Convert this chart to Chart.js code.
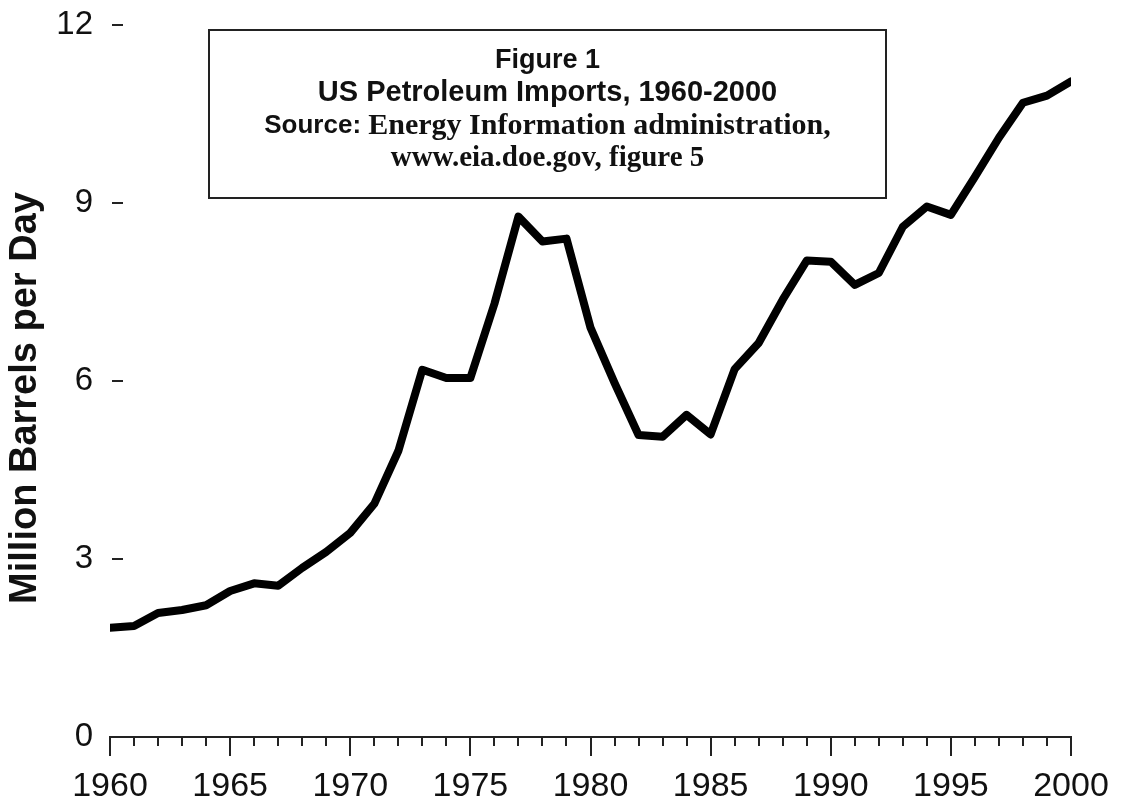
<!DOCTYPE html>
<html>
<head>
<meta charset="utf-8">
<script src="https://cdn.jsdelivr.net/npm/chart.js@4/dist/chart.umd.min.js"></script>
<style>
html,body{margin:0;padding:0;background:#fff;}
#wrap{position:relative;width:1124px;height:812px;}
</style>
</head>
<body>
<div id="wrap"><canvas id="c" width="1124" height="812"></canvas></div>
<script>
const years = [1960,1961,1962,1963,1964,1965,1966,1967,1968,1969,
               1970,1971,1972,1973,1974,1975,1976,1977,1978,1979,
               1980,1981,1982,1983,1984,1985,1986,1987,1988,1989,
               1990,1991,1992,1993,1994,1995,1996,1997,1998,1999,2000];
const imports = [1.84,1.87,2.09,2.14,2.22,2.46,2.59,2.55,2.85,3.12,
                 3.44,3.93,4.82,6.19,6.05,6.05,7.30,8.77,8.35,8.40,
                 6.90,5.97,5.09,5.06,5.43,5.10,6.20,6.64,7.37,8.03,
                 8.01,7.62,7.82,8.60,8.94,8.80,9.44,10.10,10.69,10.81,11.05];
const yTicks = [0,3,6,9,12];
const majorYears = [1960,1965,1970,1975,1980,1985,1990,1995,2000];
const yTitle = 'Million Barrels per Day';
const boxLines = [
  [{t:'Figure 1', f:'bold 27px "Liberation Sans", Arial, sans-serif'}],
  [{t:'US Petroleum Imports, 1960-2000', f:'bold 29px "Liberation Sans", Arial, sans-serif'}],
  [{t:'Source: ', f:'bold 26px "Liberation Sans", Arial, sans-serif'},
   {t:'Energy Information administration,', f:'bold 30px "Liberation Serif", "Times New Roman", serif'}],
  [{t:'www.eia.doe.gov, figure 5', f:'bold 29px "Liberation Serif", "Times New Roman", serif'}]
];

const ink = '#111';
const sans = '"Liberation Sans", Arial, sans-serif';

const axisMarksPlugin = {
  id: 'axisMarks',
  afterDraw(chart) {
    const ctx = chart.ctx;
    const xs = chart.scales.x, ys = chart.scales.y;
    const ca = chart.chartArea;
    ctx.save();
    ctx.strokeStyle = '#222';
    ctx.lineWidth = 2;
    // yearly ticks on the x axis, longer every 5 years
    years.forEach(yr => {
      const px = Math.round(xs.getPixelForValue(yr));
      const len = majorYears.includes(yr) ? 19 : 9;
      ctx.beginPath();
      ctx.moveTo(px, ca.bottom);
      ctx.lineTo(px, ca.bottom + len);
      ctx.stroke();
    });
    // short y tick marks
    yTicks.forEach(v => {
      if (v === 0) return;
      const py = Math.round(ys.getPixelForValue(v));
      ctx.beginPath();
      ctx.moveTo(ca.left + 2, py);
      ctx.lineTo(ca.left + 13, py);
      ctx.stroke();
    });
    // y axis title
    ctx.fillStyle = ink;
    ctx.font = 'bold 38px ' + sans;
    ctx.textAlign = 'center';
    ctx.textBaseline = 'middle';
    ctx.translate(26, 398);
    ctx.rotate(-Math.PI / 2);
    ctx.fillText(yTitle, 0, 0);
    ctx.restore();
  }
};

const boxPlugin = {
  id: 'infoBox',
  afterDraw(chart) {
    const ctx = chart.ctx;
    const bx = 209, by = 30, bw = 677, bh = 168;
    ctx.save();
    ctx.fillStyle = '#fff';
    ctx.fillRect(bx, by, bw, bh);
    ctx.strokeStyle = '#222';
    ctx.lineWidth = 2;
    ctx.strokeRect(bx, by, bw, bh);
    ctx.fillStyle = ink;
    ctx.textBaseline = 'middle';
    ctx.textAlign = 'left';
    const cx = bx + bw / 2;
    const lineY = [61, 93, 126, 159];
    boxLines.forEach((parts, i) => {
      let total = 0;
      parts.forEach(p => { ctx.font = p.f; total += ctx.measureText(p.t).width; });
      let x = cx - total / 2;
      parts.forEach(p => {
        ctx.font = p.f;
        ctx.fillText(p.t, x, lineY[i]);
        x += ctx.measureText(p.t).width;
      });
    });
    ctx.restore();
  }
};

new Chart(document.getElementById('c'), {
  type: 'line',
  data: {
    datasets: [{
      data: years.map((y, i) => ({x: y, y: imports[i]})),
      borderColor: '#000',
      borderWidth: 8,
      pointRadius: 0,
      tension: 0,
      borderJoinStyle: 'round',
      borderCapStyle: 'round',
      fill: false
    }]
  },
  options: {
    responsive: false,
    animation: false,
    layout: { padding: { top: 25, right: 53, bottom: 0, left: 0 } },
    plugins: { legend: { display: false }, tooltip: { enabled: false } },
    scales: {
      x: {
        type: 'linear',
        min: 1960, max: 2000,
        afterFit: s => { s.height = 75; },
        border: { display: true, color: '#222', width: 2 },
        grid: { drawOnChartArea: false, drawTicks: true, tickLength: 25, tickColor: 'rgba(0,0,0,0)' },
        ticks: {
          stepSize: 5, autoSkip: false, maxRotation: 0, padding: 4,
          color: ink,
          font: { family: sans, size: 34 },
          callback: v => String(v)
        }
      },
      y: {
        min: 0, max: 12,
        afterBuildTicks: s => { s.ticks = yTicks.map(v => ({value: v})); },
        afterFit: s => { s.width = 110; },
        border: { display: false },
        grid: { drawOnChartArea: false, drawTicks: true, tickLength: 12, tickColor: 'rgba(0,0,0,0)' },
        ticks: {
          padding: 5, color: ink,
          font: { family: sans, size: 33 }
        }
      }
    }
  },
  plugins: [axisMarksPlugin, boxPlugin]
});
</script>
</body>
</html>
